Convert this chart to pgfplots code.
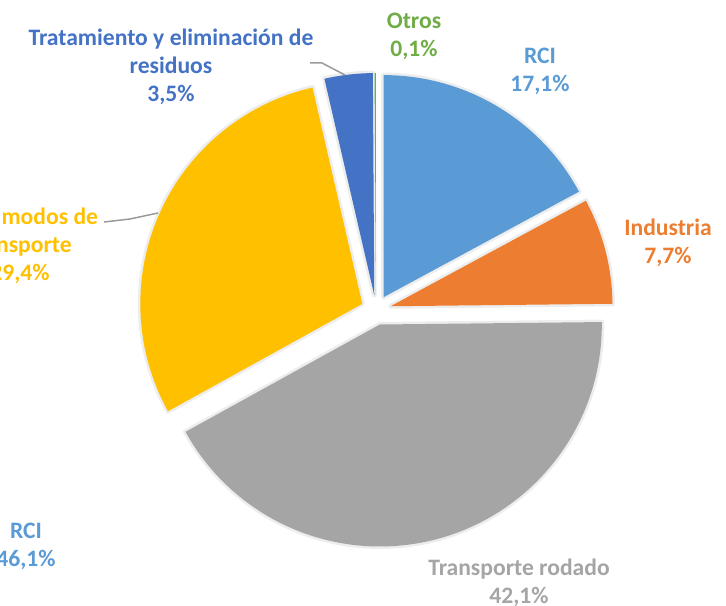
\documentclass[border=0pt]{standalone}
\usepackage{fontspec}
\setmainfont{Carlito}
\usepackage{pgfplots}
\usepackage{pgfplotstable}
\pgfplotsset{compat=1.18}
\definecolor{cRCI}{HTML}{5B9BD5}
\definecolor{cInd}{HTML}{ED7D31}
\definecolor{cTra}{HTML}{A5A5A5}
\definecolor{cOmt}{HTML}{FFC000}
\definecolor{cRes}{HTML}{4472C4}
\definecolor{cOtr}{HTML}{70AD47}
\definecolor{cLead}{HTML}{9A9A9A}
\definecolor{cHalo}{HTML}{EDEDED}
\pgfplotstableread{
name value
RCI 17.1
Industria 7.7
Transporte 42.1
OtrosModos 29.4
Tratamiento 3.5
Otros 0.1
}\piedata
\newcommand\addtot[1]{%
  \pgfplotstablegetelem{#1}{value}\of\piedata
  \pgfmathsetmacro\tmp{\tot+\pgfplotsretval}%
  \xdef\tot{\tmp}%
}
\newcommand\compslice[2]{%
  \pgfplotstablegetelem{#1}{value}\of\piedata
  \pgfmathsetmacro\anga{90-(\cum/\tot)*360}%
  \pgfmathsetmacro\tmp{\cum+\pgfplotsretval}%
  \xdef\cum{\tmp}%
  \pgfmathsetmacro\angb{90-(\cum/\tot)*360}%
  \pgfmathsetmacro\angm{(\anga+\angb)/2}%
  \pgfmathsetmacro\apx{376+15*cos(\angm)}%
  \pgfmathsetmacro\apy{295+15*sin(\angm)}%
  \expandafter\xdef\csname sa#2\endcsname{\anga}%
  \expandafter\xdef\csname sb#2\endcsname{\angb}%
  \expandafter\xdef\csname ax#2\endcsname{\apx}%
  \expandafter\xdef\csname ay#2\endcsname{\apy}%
}
\begin{document}
\xdef\tot{0}%
\addtot{0}\addtot{1}\addtot{2}\addtot{3}\addtot{4}\addtot{5}%
\xdef\cum{0}%
\compslice{0}{A}\compslice{1}{B}\compslice{2}{C}\compslice{3}{D}\compslice{4}{E}\compslice{5}{F}%
\begin{tikzpicture}
\begin{axis}[
  x=0.5pt, y=0.5pt,
  xmin=0, xmax=726, ymin=0, ymax=605,
  hide axis, clip=false,
]
% soft halo (shadow) under the slices
\draw[cHalo, line width=2.5pt, line join=round] (axis cs:\axA,\ayA) -- ++(\saA:111pt) arc[start angle=\saA, end angle=\sbA, radius=111pt] -- cycle;
\draw[cHalo, line width=2.5pt, line join=round] (axis cs:\axB,\ayB) -- ++(\saB:111pt) arc[start angle=\saB, end angle=\sbB, radius=111pt] -- cycle;
\draw[cHalo, line width=2.5pt, line join=round] (axis cs:\axC,\ayC) -- ++(\saC:111pt) arc[start angle=\saC, end angle=\sbC, radius=111pt] -- cycle;
\draw[cHalo, line width=2.5pt, line join=round] (axis cs:\axD,\ayD) -- ++(\saD:111pt) arc[start angle=\saD, end angle=\sbD, radius=111pt] -- cycle;
\draw[cHalo, line width=2.5pt, line join=round] (axis cs:\axE,\ayE) -- ++(\saE:111pt) arc[start angle=\saE, end angle=\sbE, radius=111pt] -- cycle;
% slices
\fill[cRCI] (axis cs:\axA,\ayA) -- ++(\saA:111pt) arc[start angle=\saA, end angle=\sbA, radius=111pt] -- cycle;
\fill[cInd] (axis cs:\axB,\ayB) -- ++(\saB:111pt) arc[start angle=\saB, end angle=\sbB, radius=111pt] -- cycle;
\fill[cTra] (axis cs:\axC,\ayC) -- ++(\saC:111pt) arc[start angle=\saC, end angle=\sbC, radius=111pt] -- cycle;
\fill[cOmt] (axis cs:\axD,\ayD) -- ++(\saD:111pt) arc[start angle=\saD, end angle=\sbD, radius=111pt] -- cycle;
\fill[cRes] (axis cs:\axE,\ayE) -- ++(\saE:111pt) arc[start angle=\saE, end angle=\sbE, radius=111pt] -- cycle;
\fill[cOtr] (axis cs:\axF,\ayF) -- ++(\saF:111pt) arc[start angle=\saF, end angle=\sbF, radius=111pt] -- cycle;
% leader lines
\draw[cLead, line width=0.75pt] (axis cs:310,542) -- (axis cs:322,542) -- (axis cs:345,530);
\draw[cLead, line width=0.75pt] (axis cs:104,383) -- (axis cs:130,386) -- (axis cs:158,392);
% labels
\tikzset{lbl/.style={align=center, inner sep=0pt, font=\fontsize{11.8}{14}\selectfont\bfseries}}
\node[lbl, text=cOtr] at (axis cs:414,569) {Otros\\0,1\%};
\node[lbl, text=cRCI] at (axis cs:540,534) {RCI\\17,1\%};
\node[lbl, text=cInd] at (axis cs:668,362) {Industria\\7,7\%};
\node[lbl, text=cRes] at (axis cs:171,538) {Tratamiento y eliminación de\\residuos\\3,5\%};
\node[lbl, text=cOmt] at (axis cs:20,359) {Otros modos de\\transporte\\29,4\%};
\node[lbl, text=cRCI] at (axis cs:26,59) {RCI\\46,1\%};
\node[lbl, text=cTra] at (axis cs:519,22) {Transporte rodado\\42,1\%};
\end{axis}
\pgfresetboundingbox
\useasboundingbox (current axis.south west) rectangle (current axis.north east);
\end{tikzpicture}
\end{document}
